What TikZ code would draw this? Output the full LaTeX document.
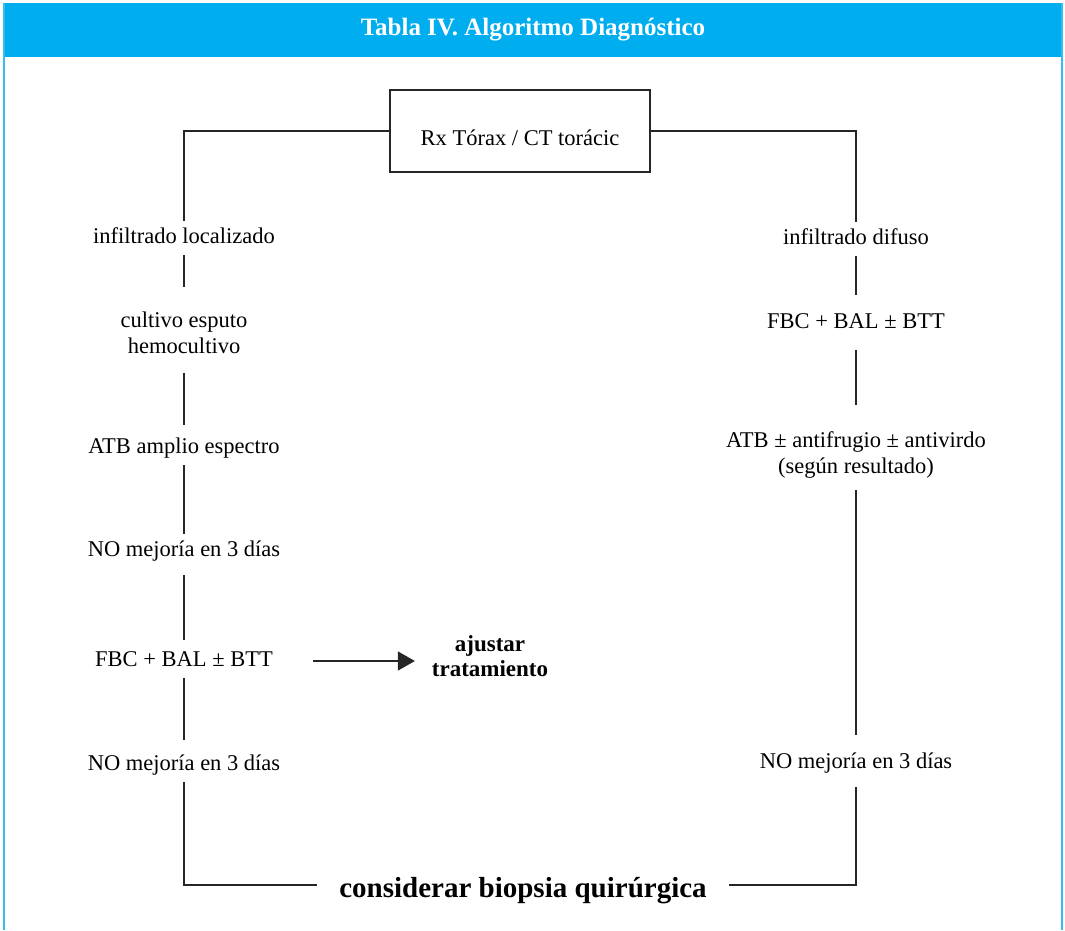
\documentclass[tikz,border=0pt]{standalone}
\usepackage{fontspec}
\setmainfont{Liberation Serif}
\usetikzlibrary{arrows.meta}
\definecolor{headcyan}{RGB}{0,174,239}

\begin{document}
\begin{tikzpicture}[
  x=1pt,y=-1pt,
  line/.style={draw=black!85,line width=1.4pt},
  frame/.style={draw=headcyan!80,line width=2pt},
  txt/.style={font=\fontsize{22.5}{25.5}\selectfont,inner sep=0pt,outer sep=7pt,
    text height=15pt,text depth=5pt},
  txtml/.style={font=\fontsize{22.5}{25.5}\selectfont,align=center,inner sep=0pt,outer sep=7pt},
  title/.style={font=\fontsize{25}{28}\selectfont\bfseries,text=white},
  box/.style={line,font=\fontsize{22.5}{25.5}\selectfont,minimum width=260pt,minimum height=82pt,
    inner sep=0pt,text height=30pt,text depth=2pt},
  arrow/.style={line,-{Triangle[length=17pt,width=19pt]}},
]
\useasboundingbox (0,0) rectangle (1065,930);

% header and frame
\fill[headcyan] (3,3) rectangle (1063,57);
\draw[frame] (4,3) -- (4,930);
\draw[frame] (1062,3) -- (1062,930);
\node[title] (head) at (533,30) {Tabla IV. Algoritmo Diagnóstico};

\node[box] (rx) at (520,131) {Rx Tórax / CT torácic};

% left branch
\node[txt] (loc) at (184,238) {infiltrado localizado};
\node[txtml] (cult) at (184,333) {cultivo esputo\\hemocultivo};
\node[txt] (atbL) at (184,448) {ATB amplio espectro};
\node[txt] (nomA) at (184,551) {NO mejoría en 3 días};
\node[txt] (fbcL) at (184,661) {FBC + BAL ± BTT};
\node[txt] (nomB) at (184,765) {NO mejoría en 3 días};
\node[txtml,font=\fontsize{23}{25.5}\selectfont\bfseries] (ajust) at (490,656) {ajustar\\tratamiento};

% right branch
\node[txt] (dif) at (856,239) {infiltrado difuso};
\node[txt] (fbcR) at (856,323) {FBC + BAL ± BTT};
\node[txtml] (atbR) at (856,455) {ATB ± antifrugio ± antivirdo\\(según resultado)};
\node[txt] (nomR) at (856,763) {NO mejoría en 3 días};

\node[txt,font=\fontsize{29}{32}\selectfont\bfseries,text height=24pt,text depth=0pt,inner xsep=15pt]
  (biop) at (523,885) {considerar biopsia quirúrgica};

\draw[line] (rx) -| (loc);
\draw[line,shorten >=18pt] (loc) -- (cult);
\draw[line,shorten <=12pt,shorten >=6pt] (cult) -- (atbL);
\draw[line] (atbL) -- (nomA);
\draw[line,shorten <=7pt,shorten >=4pt] (nomA) -- (fbcL);
\draw[line,shorten >=8pt] (fbcL) -- (nomB);
\draw[line] (nomB) |- (biop);
\draw[arrow,shorten <=33pt,shorten >=10pt] (fbcL.east) -- (fbcL.east -| ajust.west);

\draw[line] (rx) -| (dif);
\draw[line,shorten >=11pt] (dif) -- (fbcR);
\draw[line,shorten <=10pt,shorten >=20pt] (fbcR) -- (atbR);
\draw[line,shorten <=5pt,shorten >=11pt] (atbR) -- (nomR);
\draw[line,shorten <=7pt] (nomR) |- (biop);

\end{tikzpicture}
\end{document}
